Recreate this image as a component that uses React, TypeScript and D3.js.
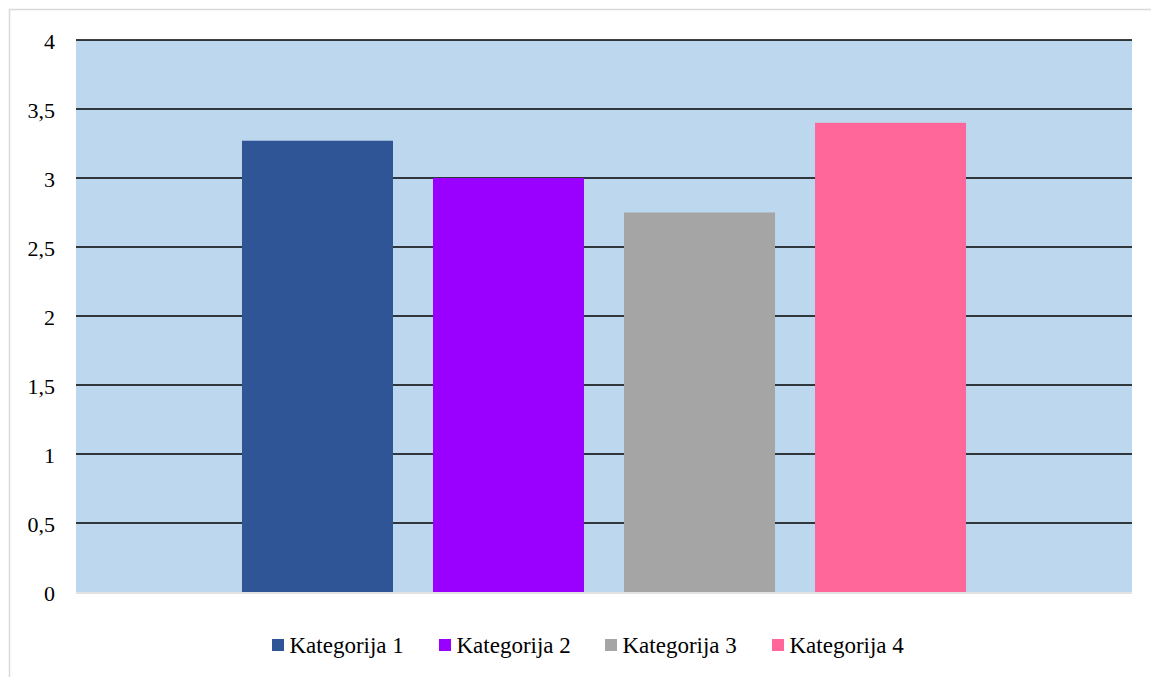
import React from "react";
import * as d3 from "d3";

const seriesNames = ["Kategorija 1", "Kategorija 2", "Kategorija 3", "Kategorija 4"];
const seriesValues = [3.27, 3.0, 2.75, 3.4];
const seriesColors = ["#2F5597", "#9900FF", "#A5A5A5", "#FF6699"];
const yTicks = [0, 0.5, 1, 1.5, 2, 2.5, 3, 3.5, 4];

const W = 1151;
const H = 677;
const plot = { left: 76, right: 1132, top: 40, bottom: 592 };
const FONT = "Liberation Serif, Times New Roman, DejaVu Serif, serif";

export default function App() {
  const y = d3.scaleLinear().domain([0, 4]).range([plot.bottom, plot.top]);
  const x = d3
    .scaleBand<string>()
    .domain(seriesNames)
    .range([plot.left, plot.right])
    .paddingInner(40 / 191)
    .paddingOuter(0.869);
  const fmt = (v: number) => String(v).replace(".", ",");

  const legendX = [272, 439, 605, 772];

  return (
    <svg
      width={W}
      height={H}
      style={{ position: "absolute", left: 0, top: 0, background: "#fff", fontFamily: FONT }}
    >
      <rect x={9.5} y={9.5} width={1150} height={700} fill="#fff" stroke="#D9D9D9" strokeWidth={1.5} />
      <rect
        x={plot.left}
        y={plot.top}
        width={plot.right - plot.left}
        height={plot.bottom - plot.top}
        fill="#BDD7EE"
      />
      <line x1={plot.left} x2={plot.right} y1={plot.bottom + 1} y2={plot.bottom + 1} stroke="#D9D9D9" strokeWidth={1.5} />
      {yTicks.filter((t) => t > 0).map((t) => (
        <line
          key={t}
          x1={plot.left}
          x2={plot.right}
          y1={y(t)}
          y2={y(t)}
          stroke="#000"
          strokeWidth={1.6}
        />
      ))}
      {yTicks.map((t) => (
        <text key={"l" + t} x={55} y={y(t) + 8.5} textAnchor="end" fontSize={22} fill="#000" style={{ fontFamily: FONT }}>
          {fmt(t)}
        </text>
      ))}
      {seriesNames.map((s, i) => (
        <rect
          key={s}
          x={x(s)}
          y={y(seriesValues[i])}
          width={x.bandwidth()}
          height={y(0) - y(seriesValues[i])}
          fill={seriesColors[i]}
        />
      ))}
      {seriesNames.map((s, i) => (
        <g key={"lg" + s} transform={`translate(${legendX[i]},0)`}>
          <rect x={0} y={639} width={12} height={12} fill={seriesColors[i]} />
          <text x={17.5} y={653} fontSize={23} fill="#000" style={{ fontFamily: FONT }}>
            {s}
          </text>
        </g>
      ))}
    </svg>
  );
}
